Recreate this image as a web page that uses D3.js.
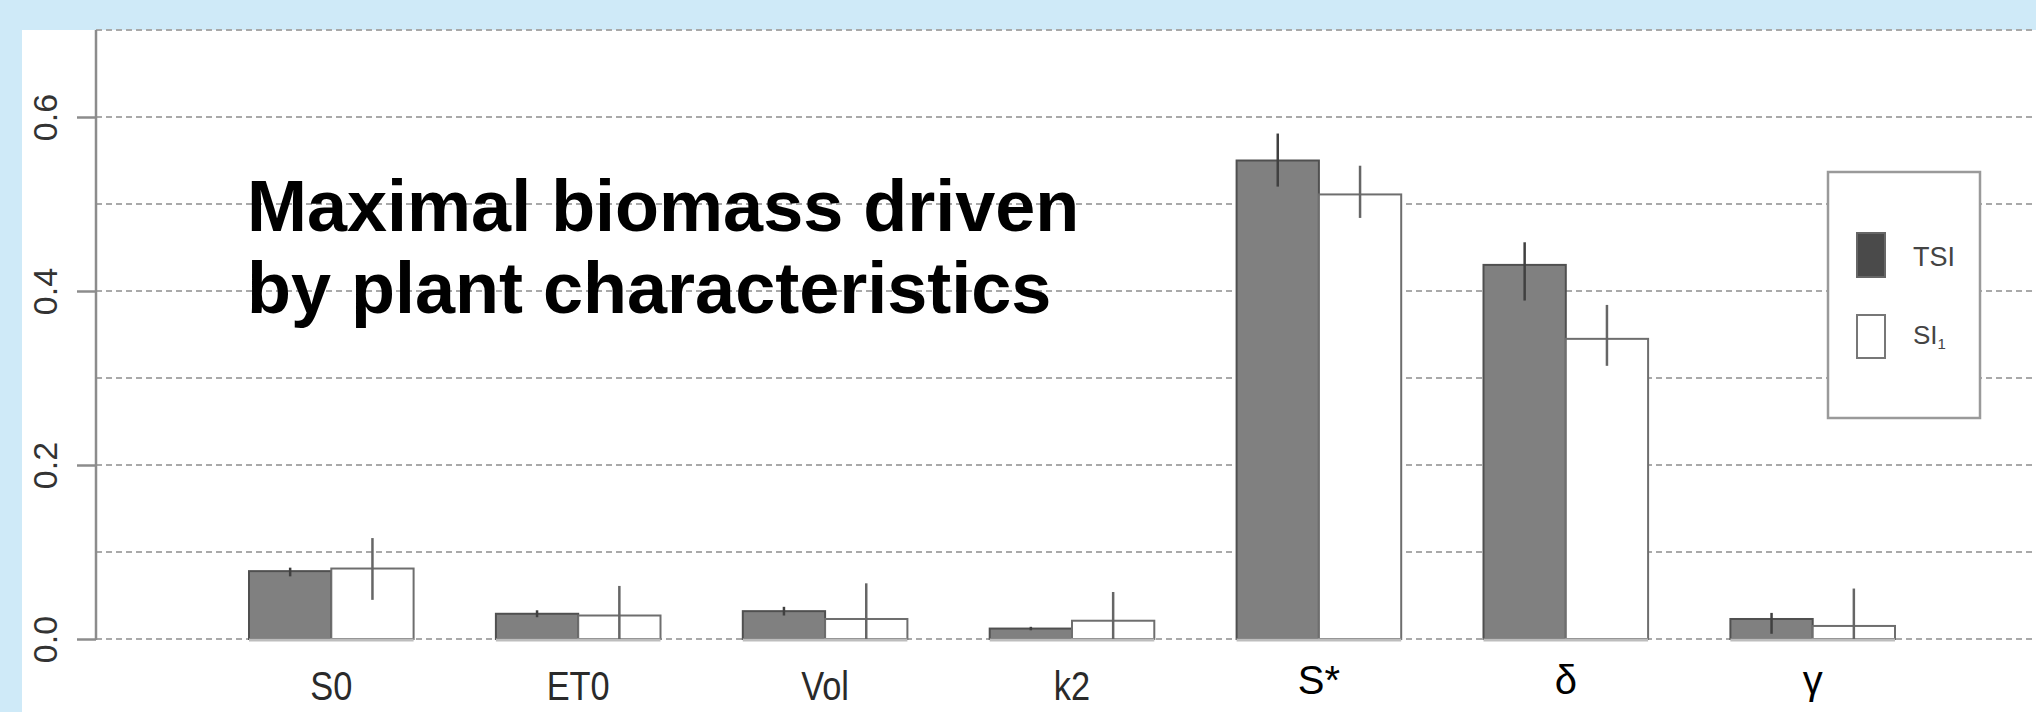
<!DOCTYPE html>
<html>
<head>
<meta charset="utf-8">
<script src="https://cdn.jsdelivr.net/npm/d3@7"></script>
<style>
  html, body { margin: 0; padding: 0; background: #cfeaf8; }
  svg { display: block; }
</style>
</head>
<body>
<svg id="chart" width="2036" height="712"></svg>
<script>
// ---- data ----
const categories = ["S0", "ET0", "Vol", "k2", "S*", "δ", "γ"];
const tsiValues = [0.078, 0.029, 0.032, 0.012, 0.550, 0.430, 0.023];
const tsiLow    = [0.072, 0.025, 0.027, 0.010, 0.520, 0.389, 0.006];
const tsiHigh   = [0.082, 0.033, 0.037, 0.014, 0.581, 0.456, 0.030];
const siValues  = [0.081, 0.027, 0.023, 0.021, 0.511, 0.345, 0.015];
const siLow     = [0.045, 0.000, 0.000, 0.000, 0.484, 0.314, 0.000];
const siHigh    = [0.116, 0.061, 0.064, 0.054, 0.544, 0.384, 0.058];
const yTicks = [0, 0.2, 0.4, 0.6];
const yTickLabels = ["0.0", "0.2", "0.4", "0.6"];
const gridValues = [0, 0.1, 0.2, 0.3, 0.4, 0.5, 0.6, 0.7];
const titleLines = ["Maximal biomass driven", "by plant characteristics"];
const legendLabels = ["TSI", "SI"];

// ---- layout ----
const W = 2036, H = 712;
const svg = d3.select("#chart");

// bar units (R barplot style: space = c(0,1))
const x = d3.scaleLinear().domain([1, 21]).range([249, 1895]);
const y = d3.scaleLinear().domain([0, 0.7]).range([639, 30]);
const axisX = 96;

// white panel
svg.append("rect").attr("x", 22).attr("y", 30).attr("width", W - 22).attr("height", H - 30).attr("fill", "#ffffff");

// gridlines
svg.append("g").selectAll("line").data(gridValues).join("line")
  .attr("x1", axisX).attr("x2", W)
  .attr("y1", d => y(d)).attr("y2", d => y(d))
  .attr("stroke", "#a9a9a9").attr("stroke-width", 2)
  .attr("stroke-dasharray", "6,4");

// title
const title = svg.append("text")
  .attr("x", 247).attr("y", 231)
  .attr("font-family", "Liberation Sans, Arial, sans-serif")
  .attr("font-weight", "bold").attr("font-size", 72).attr("fill", "#000");
titleLines.forEach((t, i) => {
  title.append("tspan").attr("x", 247).attr("y", 231 + i * 82).text(t);
});

// bars
const gBars = svg.append("g");
const rows = categories.map((c, i) => ({
  c, i, tsi: tsiValues[i], tLo: tsiLow[i], tHi: tsiHigh[i],
  si: siValues[i], sLo: siLow[i], sHi: siHigh[i]
}));

gBars.selectAll("rect.tsi").data(rows).join("rect").attr("class", "tsi")
  .attr("x", d => x(1 + 3 * d.i)).attr("width", d => x(2 + 3 * d.i) - x(1 + 3 * d.i))
  .attr("y", d => y(d.tsi)).attr("height", d => y(0) - y(d.tsi))
  .attr("fill", "#808080").attr("stroke", "#505050").attr("stroke-width", 2);

gBars.selectAll("rect.si").data(rows).join("rect").attr("class", "si")
  .attr("x", d => x(2 + 3 * d.i)).attr("width", d => x(3 + 3 * d.i) - x(2 + 3 * d.i))
  .attr("y", d => y(d.si)).attr("height", d => y(0) - y(d.si))
  .attr("fill", "#ffffff").attr("stroke", "#6e6e6e").attr("stroke-width", 2);

// baseline under bars
gBars.selectAll("line.base").data(rows).join("line").attr("class", "base")
  .attr("x1", d => x(1 + 3 * d.i)).attr("x2", d => x(3 + 3 * d.i))
  .attr("y1", y(0) + 1).attr("y2", y(0) + 1)
  .attr("stroke", "#bdbdbd").attr("stroke-width", 3);

// error bars
gBars.selectAll("line.etsi").data(rows).join("line").attr("class", "etsi")
  .attr("x1", d => x(1.5 + 3 * d.i)).attr("x2", d => x(1.5 + 3 * d.i))
  .attr("y1", d => y(d.tLo)).attr("y2", d => y(d.tHi))
  .attr("stroke", "#404040").attr("stroke-width", 2.5);
gBars.selectAll("line.esi").data(rows).join("line").attr("class", "esi")
  .attr("x1", d => x(2.5 + 3 * d.i)).attr("x2", d => x(2.5 + 3 * d.i))
  .attr("y1", d => y(d.sLo)).attr("y2", d => y(d.sHi))
  .attr("stroke", "#666666").attr("stroke-width", 2.5);

// y axis
const yAxis = d3.axisLeft(y).tickValues(yTicks).tickSize(19).tickFormat((d, i) => yTickLabels[i]);
const gy = svg.append("g").attr("transform", `translate(${axisX},0)`).call(yAxis);
gy.select(".domain").remove();
gy.selectAll(".tick line").attr("stroke", "#8c8c8c").attr("stroke-width", 2.5);
gy.selectAll(".tick text")
  .attr("x", null).attr("dy", null)
  .attr("transform", "translate(-39,0) rotate(-90)")
  .attr("text-anchor", "middle")
  .attr("font-family", "Liberation Sans, Arial, sans-serif")
  .attr("font-size", 34).attr("fill", "#333");
svg.append("line").attr("x1", axisX).attr("x2", axisX).attr("y1", 30).attr("y2", y(0) + 1)
  .attr("stroke", "#8c8c8c").attr("stroke-width", 2.5);

// category labels
svg.append("g").selectAll("text").data(rows).join("text")
  .attr("transform", d => d.i < 4
      ? `translate(${x(2 + 3 * d.i)},700) scale(0.86,1)`
      : `translate(${x(2 + 3 * d.i)},694)`)
  .attr("text-anchor", "middle")
  .attr("font-family", "Liberation Sans, Arial, sans-serif")
  .attr("font-size", 40)
  .attr("fill", d => d.i < 4 ? "#2a2a2a" : "#000")
  .text(d => d.c);

// legend
const lg = svg.append("g");
lg.append("rect").attr("x", 1828).attr("y", 172).attr("width", 152).attr("height", 246)
  .attr("fill", "#fff").attr("stroke", "#9a9a9a").attr("stroke-width", 2.5);
lg.append("rect").attr("x", 1857).attr("y", 233).attr("width", 28).attr("height", 44)
  .attr("fill", "#4a4a4a").attr("stroke", "#666").attr("stroke-width", 2);
lg.append("rect").attr("x", 1857).attr("y", 315).attr("width", 28).attr("height", 43)
  .attr("fill", "#fff").attr("stroke", "#777").attr("stroke-width", 2);
lg.append("text").attr("x", 1913).attr("y", 266)
  .attr("font-family", "Liberation Sans, Arial, sans-serif").attr("font-size", 27).attr("fill", "#444")
  .text(legendLabels[0]);
const siText = lg.append("text").attr("x", 1913).attr("y", 344)
  .attr("font-family", "Liberation Sans, Arial, sans-serif").attr("font-size", 26).attr("fill", "#444");
siText.append("tspan").text(legendLabels[1]);
siText.append("tspan").attr("font-size", 15).attr("dy", 5).text("1");
</script>
</body>
</html>
